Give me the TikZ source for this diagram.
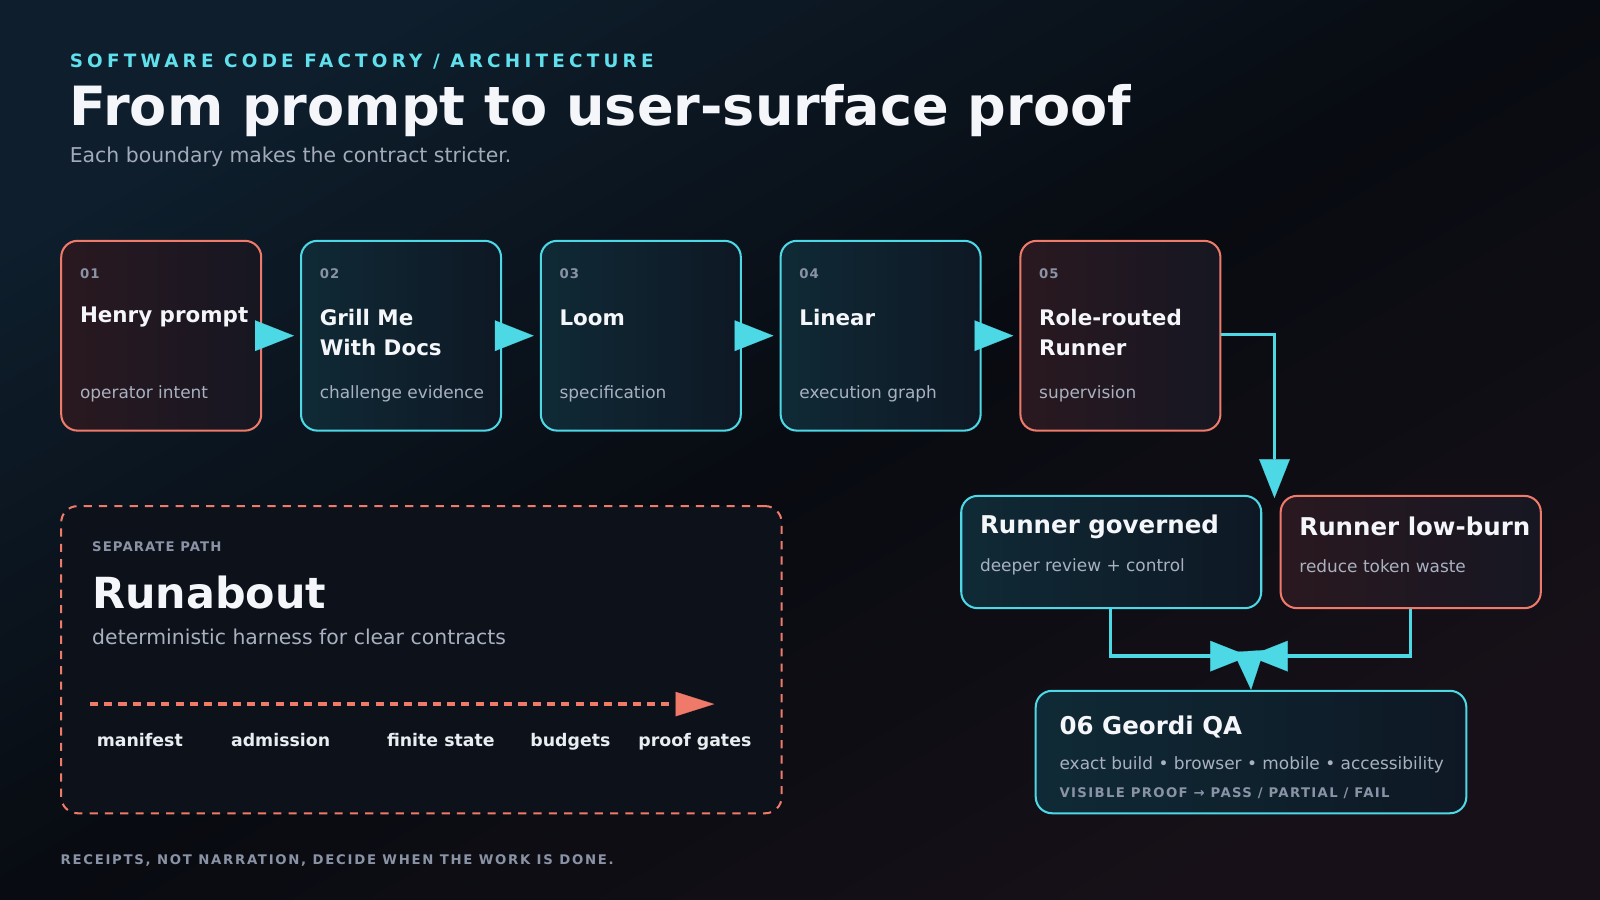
\documentclass[tikz,border=0pt]{standalone}
\usepackage{fontspec}
\setmainfont{DejaVu Sans}
\usetikzlibrary{arrows.meta,positioning}
\definecolor{cy}{HTML}{4DD8E6}
\definecolor{rd}{HTML}{F07A6A}
\definecolor{gr}{HTML}{8A93A6}
\definecolor{lt}{HTML}{A9B1C0}
\definecolor{wh}{HTML}{F4F6FA}
\definecolor{hd}{HTML}{5FE0EC}
\definecolor{bgA}{HTML}{0E1E2C}
\definecolor{bgB}{HTML}{080B11}
\definecolor{bgC}{HTML}{171018}
\definecolor{cA}{HTML}{0F2A36}
\definecolor{cB}{HTML}{0E1824}
\definecolor{rA}{HTML}{2A1820}
\definecolor{rB}{HTML}{161722}
\definecolor{raF}{HTML}{0C111A}
\begin{document}
\begin{tikzpicture}[x=0.5pt,y=-0.5pt,
 box/.style={draw=#1,line width=1pt,rounded corners=8pt,anchor=north west,inner sep=0},
 cbox/.style={box=cy,left color=cA,right color=cB},
 rbox/.style={box=rd,left color=rA,right color=rB},
 num/.style={anchor=west,inner sep=0,font=\bfseries\fontsize{6.5}{8}\selectfont\addfontfeatures{LetterSpace=8},text=gr},
 ttl/.style={anchor=west,inner sep=0,font=\bfseries\fontsize{10.5}{14.5}\selectfont,text=wh,align=left},
 sub/.style={anchor=west,inner sep=0,font=\fontsize{8.3}{10}\selectfont,text=lt},
 tri/.style={draw=cy,fill=cy,-{Triangle[length=19pt,width=15pt]},line width=0.1pt},
 conn/.style={draw=cy,line width=1.6pt},
 lab/.style={font=\bfseries\fontsize{8.5}{10}\selectfont,text=wh!90!gr}]
\shade[top color=bgA,bottom color=bgC,middle color=bgB,shading angle=30] (0,0) rectangle (1568,882);
\useasboundingbox (0,0) rectangle (1568,882);
\node[anchor=west,inner sep=0,font=\bfseries\fontsize{9}{11}\selectfont\addfontfeatures{LetterSpace=23},text=hd] (h) at (68,60) {SOFTWARE CODE FACTORY / ARCHITECTURE};
\node[anchor=west,font=\bfseries\fontsize{26.5}{32}\selectfont,text=wh,inner sep=0] (t) at (68,108) {From prompt to user-surface proof};
\node[anchor=west,font=\fontsize{10}{12}\selectfont,text=lt!80!gr,inner sep=0] (s) at (68,154) {Each boundary makes the contract stricter.};
% boxes
\foreach \i/\x/\st/\n/\t/\s in {1/59/rbox/01/Henry prompt/operator intent,
  2/294/cbox/02/{Grill Me\\With Docs}/challenge evidence,
  3/529/cbox/03/Loom/specification,
  4/764/cbox/04/Linear/execution graph,
  5/999/rbox/05/{Role-routed\\Runner}/supervision}{
  \node[\st,minimum width=98pt,minimum height=93pt] (b\i) at (\x,235) {};
  \node[num] (n\i) at (\x+19,268) {\n};
  \node[ttl] (t\i) at (\x+19,{\i==2||\i==5?326:311}) {\t};
  \node[sub] (s\i) at (\x+19,386) {\s};
}
\foreach \a/\b in {1/2,2/3,3/4,4/5}{\draw[tri] ([xshift=-3pt]b\a.east) -- ([xshift=-3pt]b\b.west);}
% runners
\node[cbox,minimum width=147pt,minimum height=55pt] (rg) at (941,485) {};
\node[ttl,font=\bfseries\fontsize{12}{14}\selectfont] at (960,516) {Runner governed};
\node[sub] at (960,555) {deeper review + control};
\node[rbox,minimum width=127.5pt,minimum height=55pt] (rl) at (1254,485) {};
\node[ttl,font=\bfseries\fontsize{12}{14}\selectfont] at (1273,516) {Runner low-burn};
\node[sub] at (1273,555) {reduce token waste};
\node[cbox,minimum width=211pt,minimum height=60pt] (gq) at (1014,676) {};
\node[ttl,font=\bfseries\fontsize{12}{14}\selectfont] at (1038,712) {06 Geordi QA};
\node[sub] at (1038,750) {exact build • browser • mobile • accessibility};
\node[num,font=\bfseries\fontsize{6.5}{8}\selectfont\addfontfeatures{LetterSpace=10}] at (1038,777) {VISIBLE PROOF → PASS / PARTIAL / FAIL};
\coordinate (m) at (1224,643);
\coordinate (k) at (1249,450);
\coordinate (ke) at (1249,488);
\draw[conn] (b5.east|-0,328) -- (1249,328) -- (k);
\draw[tri] (k) -- (ke);
\draw[conn] (rg.south-|1088,0) -- (1088,643) -- (1190,643);
\draw[conn] (rl.south-|1382,0) -- (1382,643) -- (1258,643);
\draw[tri] (1188,643) -- (m);
\draw[tri] (1260,643) -- (m);
\draw[tri] (m) -- (gq.north);
% runabout
\node[box=rd,dashed,dash pattern=on 4pt off 3.5pt,fill=raF,minimum width=353pt,minimum height=150.5pt] (ra) at (59,495) {};
\node[num] at (90,536) {SEPARATE PATH};
\node[anchor=west,inner sep=0,font=\bfseries\fontsize{21}{25}\selectfont,text=wh] at (90,581) {Runabout};
\node[anchor=west,inner sep=0,font=\fontsize{10}{12}\selectfont,text=lt] at (90,624) {deterministic harness for clear contracts};
\coordinate (d0) at (88,690); \coordinate (d1) at (662,690); \coordinate (d2) at (700,690);
\draw[draw=rd,line width=1.6pt,dash pattern=on 4pt off 3pt] (d0) -- (d1);
\draw[draw=rd,fill=rd,-{Triangle[length=19pt,width=12pt]},line width=0.1pt] (d1) -- (d2);
\foreach \x/\t in {137/manifest,275/admission,432/finite state,559/budgets,681/proof gates}{\node[lab,anchor=base] at (\x,732) {\t};}
\node[num,font=\bfseries\fontsize{6.5}{8}\selectfont\addfontfeatures{LetterSpace=13}] (f) at (59,843) {RECEIPTS, NOT NARRATION, DECIDE WHEN THE WORK IS DONE.};
\end{tikzpicture}
\end{document}
